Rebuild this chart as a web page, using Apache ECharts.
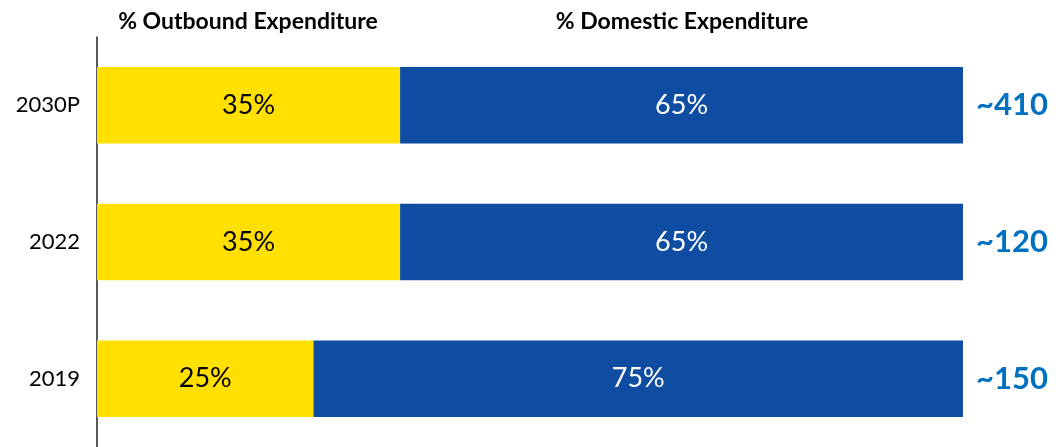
<!DOCTYPE html>
<html>
<head>
<meta charset="utf-8">
<script src="https://cdn.jsdelivr.net/npm/echarts@6/dist/echarts.min.js"></script>
<style>
  html, body { margin: 0; padding: 0; background: #fff; }
  #chart { width: 1059px; height: 447px; }
</style>
</head>
<body>
<div id="chart"></div>
<script>
// data, bottom to top
const years = ['2019', '2022', '2030P']
const outbound = [25, 35, 35]
const domestic = [75, 65, 65]
const totals = ['~150', '~120', '~410']

const font = 'Lato, "Open Sans", sans-serif'

const chart = echarts.init(document.getElementById('chart'))
chart.setOption({
  animation: false,
  textStyle: { fontFamily: font },
  grid: { left: 97, right: 96, top: 37, bottom: -3 },
  graphic: [
    {
      type: 'text', x: 248, y: 22,
      style: { text: '% Outbound Expenditure', fontSize: 23, fontWeight: 'bold', fill: '#000', fontFamily: font, align: 'center', verticalAlign: 'middle' }
    },
    {
      type: 'text', x: 682, y: 22,
      style: { text: '% Domestic Expenditure', fontSize: 23, fontWeight: 'bold', fill: '#000', fontFamily: font, align: 'center', verticalAlign: 'middle' }
    }
  ],
  xAxis: {
    type: 'value',
    min: 0,
    max: 100,
    show: false
  },
  yAxis: {
    type: 'category',
    data: years,
    axisLine: { show: true, lineStyle: { color: '#222', width: 1.5 } },
    axisTick: { show: false },
    axisLabel: { color: '#000', fontSize: 22, margin: 17 }
  },
  series: [
    {
      name: '% Outbound Expenditure',
      type: 'bar',
      stack: 'total',
      data: outbound,
      barCategoryGap: '44%',
      itemStyle: { color: '#FFE000' },
      label: {
        show: true,
        position: 'inside',
        formatter: '{c}%',
        color: '#000',
        fontSize: 27
      }
    },
    {
      name: '% Domestic Expenditure',
      type: 'bar',
      stack: 'total',
      data: domestic,
      barCategoryGap: '44%',
      itemStyle: { color: '#0F4DA3' },
      label: {
        show: true,
        position: 'inside',
        formatter: '{c}%',
        color: '#fff',
        fontSize: 27
      }
    },
    {
      // invisible helper to put totals on the right of each bar
      name: 'total',
      type: 'bar',
      stack: 'total',
      data: years.map(() => 0),
      barCategoryGap: '44%',
      itemStyle: { color: 'transparent' },
      label: {
        show: true,
        position: 'right',
        distance: 13,
        formatter: p => totals[p.dataIndex],
        color: '#0070C0',
        fontSize: 31,
        fontWeight: 'bold'
      }
    }
  ]
})
</script>
</body>
</html>
